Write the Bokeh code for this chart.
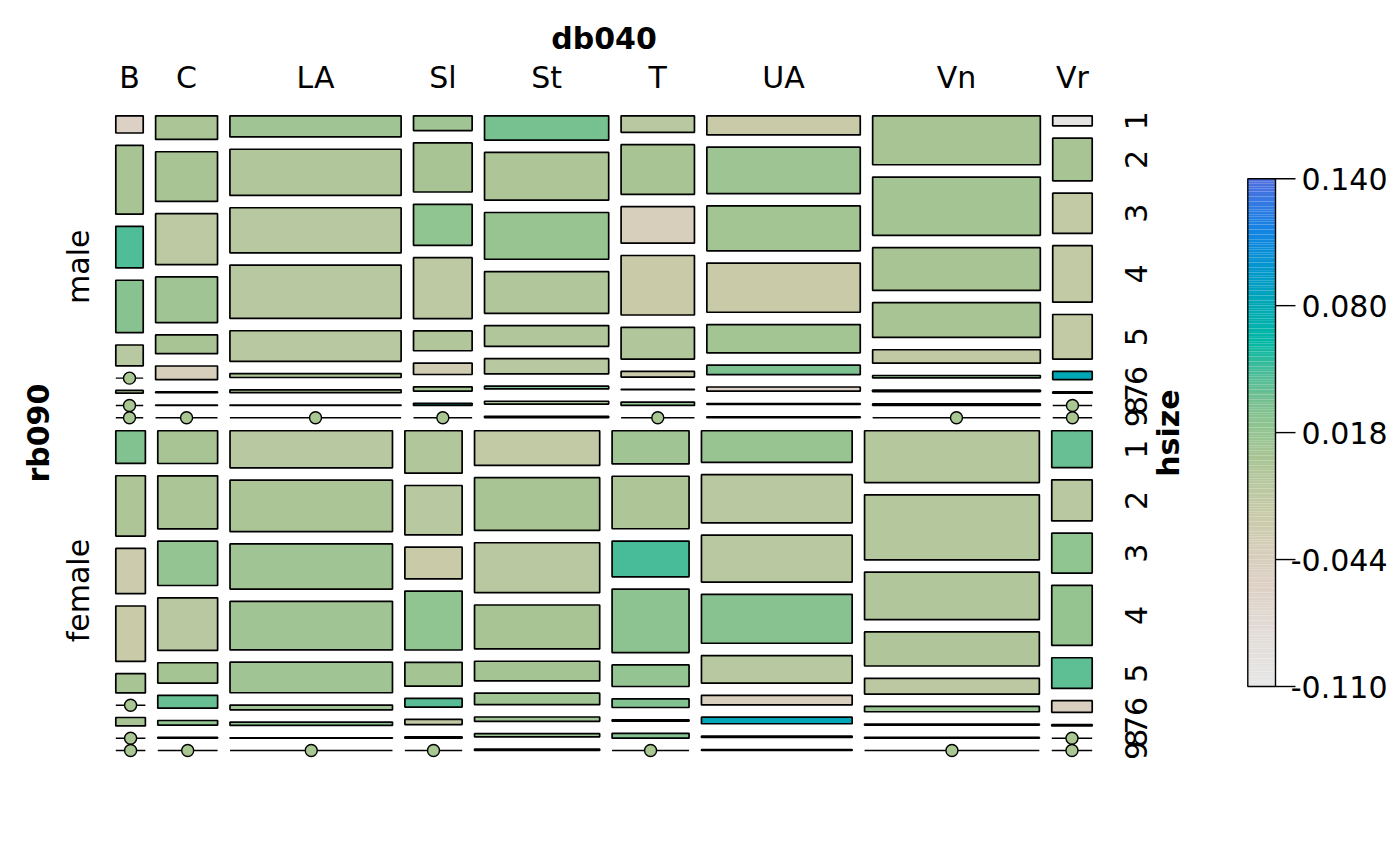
import numpy as np
from bokeh.plotting import figure
from bokeh.models import Range1d, ColumnDataSource, LinearColorMapper
from bokeh.transform import transform
from bokeh.embed import file_html
from bokeh.resources import INLINE
from bokeh.core.properties import value

# ---------------- data ----------------
regions = ["B", "C", "LA", "Sl", "St", "T", "UA", "Vn", "Vr"]
sexes = ["male", "female"]
hsize_levels = ["1", "2", "3", "4", "5", "6", "7", "8", "9"]

# counts: one row per region (db040), columns = hsize 1..9
male_counts = [
    [19, 76, 46, 58, 23, 0, 3, 0, 0],          # B
    [59, 124, 127, 114, 47, 34, 2, 1, 0],      # C
    [146, 319, 311, 368, 211, 27, 20, 3, 0],   # LA
    [35, 116, 97, 144, 47, 27, 10, 5, 0],      # Sl
    [122, 239, 234, 209, 104, 76, 14, 14, 7],  # St
    [49, 147, 108, 176, 94, 17, 1, 10, 0],     # T
    [118, 287, 278, 304, 175, 59, 26, 6, 6],   # UA
    [331, 394, 289, 235, 91, 16, 10, 10, 0],   # Vn
    [16, 68, 64, 90, 71, 13, 2, 0, 0],         # Vr
]
female_counts = [
    [39, 72, 54, 66, 23, 0, 10, 0, 0],         # B
    [79, 128, 107, 127, 49, 31, 11, 2, 0],     # C
    [243, 337, 296, 318, 200, 31, 22, 3, 0],   # LA
    [98, 114, 73, 136, 55, 20, 12, 3, 0],      # Sl
    [175, 266, 252, 222, 99, 58, 22, 16, 7],   # St
    [103, 163, 111, 197, 67, 27, 4, 15, 0],    # T
    [192, 293, 285, 297, 167, 58, 40, 8, 5],   # UA
    [365, 458, 335, 240, 111, 38, 7, 6, 0],    # Vn
    [60, 67, 65, 98, 50, 19, 2, 0, 0],         # Vr
]
# shading value of each cell (colour key -0.110 .. 0.140)
male_values = [
    [-0.060, 0.0025, 0.0425, 0.0225, -0.010, 0.0, 0.005, 0.0, 0.0],
    [0.000, 0.0025, -0.015, 0.0075, 0.0025, -0.045, 0.0, 0.0, 0.0],
    [0.0075, -0.005, -0.010, -0.010, -0.010, -0.0025, -0.0025, 0.0, 0.0],
    [0.0075, 0.0025, 0.0175, -0.015, -0.005, -0.035, 0.005, 0.070, 0.0],
    [0.030, -0.0025, 0.0125, -0.005, -0.005, -0.010, 0.025, 0.0, 0.0],
    [-0.012, 0.0025, -0.045, -0.025, -0.005, -0.028, 0.0, 0.015, 0.0],
    [-0.025, 0.010, 0.006, -0.025, 0.006, 0.027, -0.065, 0.0, 0.0],
    [0.003, 0.005, 0.003, 0.003, -0.018, 0.020, 0.0, 0.0, 0.0],
    [-0.105, 0.003, -0.020, -0.020, -0.020, 0.078, 0.0, 0.0, 0.0],
]
female_values = [
    [0.025, -0.0025, -0.030, -0.025, 0.0025, 0.0, 0.0025, 0.0, 0.0],
    [0.0025, 0.000, 0.015, -0.012, 0.005, 0.035, 0.0175, 0.0, 0.0],
    [-0.010, 0.000, 0.0075, 0.0075, 0.0075, 0.0075, 0.020, 0.0, 0.0],
    [-0.005, -0.010, -0.025, 0.0175, 0.005, 0.040, -0.020, 0.0, 0.0],
    [-0.020, 0.0025, -0.012, 0.0025, 0.005, 0.0075, 0.0075, 0.010, 0.0],
    [0.0075, -0.0025, 0.045, 0.019, 0.015, 0.025, 0.0, 0.025, 0.0],
    [0.0125, -0.012, -0.011, 0.0225, -0.010, -0.050, 0.080, 0.0, 0.0],
    [-0.007, -0.007, -0.005, -0.004, -0.013, 0.0125, 0.0, 0.0, 0.0],
    [0.035, -0.012, 0.0175, 0.014, 0.0375, -0.050, 0.0, 0.0, 0.0],
]
key_low, key_high = -0.110, 0.140
key_tick_labels = ["-0.110", "-0.044", "0.018", "0.080", "0.140"]

# ---------------- style ----------------
FONT = value("DejaVu Sans")
FS = "30px"
LW = 1.7
anchor_pos = [0.00, 0.10, 0.20, 0.26, 0.34, 0.40, 0.45, 0.51, 0.56, 0.62, 0.68, 0.75, 0.82, 0.90, 1.00]
anchor_col = ["#e6e6e6", "#e2dcd8", "#ddd0c4", "#d7cebb", "#c8caa8", "#b8c8a0", "#a8c494",
              "#90c490", "#78c090", "#48bc98", "#00b8a4", "#00a8b4", "#0098cc", "#1484e4", "#5070e0"]


def hex2rgb(h):
    return [int(h[i:i + 2], 16) for i in (1, 3, 5)]


rgb = np.array([hex2rgb(c) for c in anchor_col], float)
t = np.linspace(0, 1, 256)
palette = ["#%02x%02x%02x" % tuple(int(round(np.interp(tt, anchor_pos, rgb[:, k]))) for k in range(3))
           for tt in t]
mapper = LinearColorMapper(palette=palette, low=key_low, high=key_high)

# ---------------- layout of the mosaic ----------------
X0, X1 = 115.3, 1091.7
Y0, Y1 = 115.3, 750.0
GX, GY, GS = 12.4, 12.3, 13.0
nreg, nh = len(regions), len(hsize_levels)

all_counts = [np.array(male_counts, float), np.array(female_counts, float)]
all_values = [male_values, female_values]
grand = sum(c.sum() for c in all_counts)
avail_y = (Y1 - Y0) - GS - len(sexes) * (nh - 1) * GY
avail_x = (X1 - X0) - (nreg - 1) * GX

rects = dict(left=[], right=[], top=[], bottom=[], val=[])
zeros = dict(x0=[], x1=[], y=[], xc=[])
region_centers = []
sex_centers = []
hsize_lab = dict(x=[], y=[], text=[])

sex_top = Y0
for si, c in enumerate(all_counts):
    content_h = avail_y * c.sum() / grand
    reg_tot = c.sum(axis=1)
    x = X0
    for r in range(nreg):
        w = avail_x * reg_tot[r] / c.sum()
        if si == 0:
            region_centers.append(x + w / 2)
        y = sex_top
        for h in range(nh):
            hh = content_h * c[r, h] / reg_tot[r]
            if c[r, h] > 0:
                rects["left"].append(x)
                rects["right"].append(x + w)
                rects["top"].append(y)
                rects["bottom"].append(y + hh)
                rects["val"].append(all_values[si][r][h])
            else:
                zeros["x0"].append(x)
                zeros["x1"].append(x + w)
                zeros["y"].append(y)
                zeros["xc"].append(x + w / 2)
            if r == nreg - 1:
                hsize_lab["x"].append(1135)
                hsize_lab["y"].append(y + hh / 2)
                hsize_lab["text"].append(hsize_levels[h])
            y += hh + GY
        x += w + GX
    sex_h = content_h + (nh - 1) * GY
    sex_centers.append(sex_top + sex_h / 2)
    sex_top += sex_h + GS

# ---------------- figure ----------------
p = figure(width=1400, height=866, x_range=Range1d(0, 1400), y_range=Range1d(866, 0),
           output_backend="svg", toolbar_location=None, min_border=0,
           x_axis_location=None, y_axis_location=None, outline_line_color=None)
p.grid.visible = False
p.background_fill_color = "white"
p.border_fill_color = "white"

p.quad(left="left", right="right", top="top", bottom="bottom", source=ColumnDataSource(rects),
       fill_color=transform("val", mapper), line_color="black", line_width=LW)
p.segment(x0="x0", y0="y", x1="x1", y1="y", source=ColumnDataSource(zeros),
          line_color="black", line_width=1.4)
p.scatter(x="xc", y="y", source=ColumnDataSource(zeros), size=12, marker="circle",
          fill_color="#a9c792", line_color="black", line_width=1.4)

# labels
p.text(x=[(X0 + X1) / 2], y=[38], text=["db040"], text_font=FONT, text_font_size=FS,
       text_font_style="bold", text_align="center", text_baseline="middle")
p.text(x=region_centers, y=[77] * nreg, text=regions, text_font=FONT, text_font_size=FS,
       text_align="center", text_baseline="middle")
p.text(x=[38], y=[(Y0 + Y1) / 2], text=["rb090"], angle=np.pi / 2, text_font=FONT,
       text_font_size=FS, text_font_style="bold", text_align="center", text_baseline="middle")
p.text(x=[78, 78], y=sex_centers, text=sexes, angle=np.pi / 2, text_font=FONT,
       text_font_size=FS, text_align="center", text_baseline="middle")
p.text(x="x", y="y", text="text", source=ColumnDataSource(hsize_lab), angle=np.pi / 2,
       text_font=FONT, text_font_size=FS, text_align="center", text_baseline="middle")
p.text(x=[1168], y=[(Y0 + Y1) / 2], text=["hsize"], angle=np.pi / 2, text_font=FONT,
       text_font_size=FS, text_font_style="bold", text_align="center", text_baseline="middle")

# colour key
KX0, KX1, KY_TOP, KY_BOT = 1247.3, 1275.0, 178.2, 686.0
nslice = 200
edges = np.linspace(key_low, key_high, nslice + 1)
ypix = KY_BOT + (edges - key_low) / (key_high - key_low) * (KY_TOP - KY_BOT)
key_src = ColumnDataSource(dict(bottom=ypix[:-1], top=ypix[1:], val=(edges[:-1] + edges[1:]) / 2))
p.quad(left=KX0, right=KX1, top="top", bottom="bottom", source=key_src,
       fill_color=transform("val", mapper), line_color=None)
p.quad(left=[KX0], right=[KX1], top=[KY_TOP], bottom=[KY_BOT], fill_color=None,
       line_color="black", line_width=1.4)
tick_y = list(np.linspace(KY_BOT, KY_TOP, len(key_tick_labels)))
p.segment(x0=[KX1] * len(tick_y), x1=[1295] * len(tick_y), y0=tick_y, y1=tick_y,
          line_color="black", line_width=1.4)
p.text(x=[1387] * len(tick_y), y=tick_y, text=key_tick_labels, text_font=FONT, text_font_size=FS,
       text_align="right", text_baseline="middle")

open("out.html", "w").write(file_html(p, INLINE))
